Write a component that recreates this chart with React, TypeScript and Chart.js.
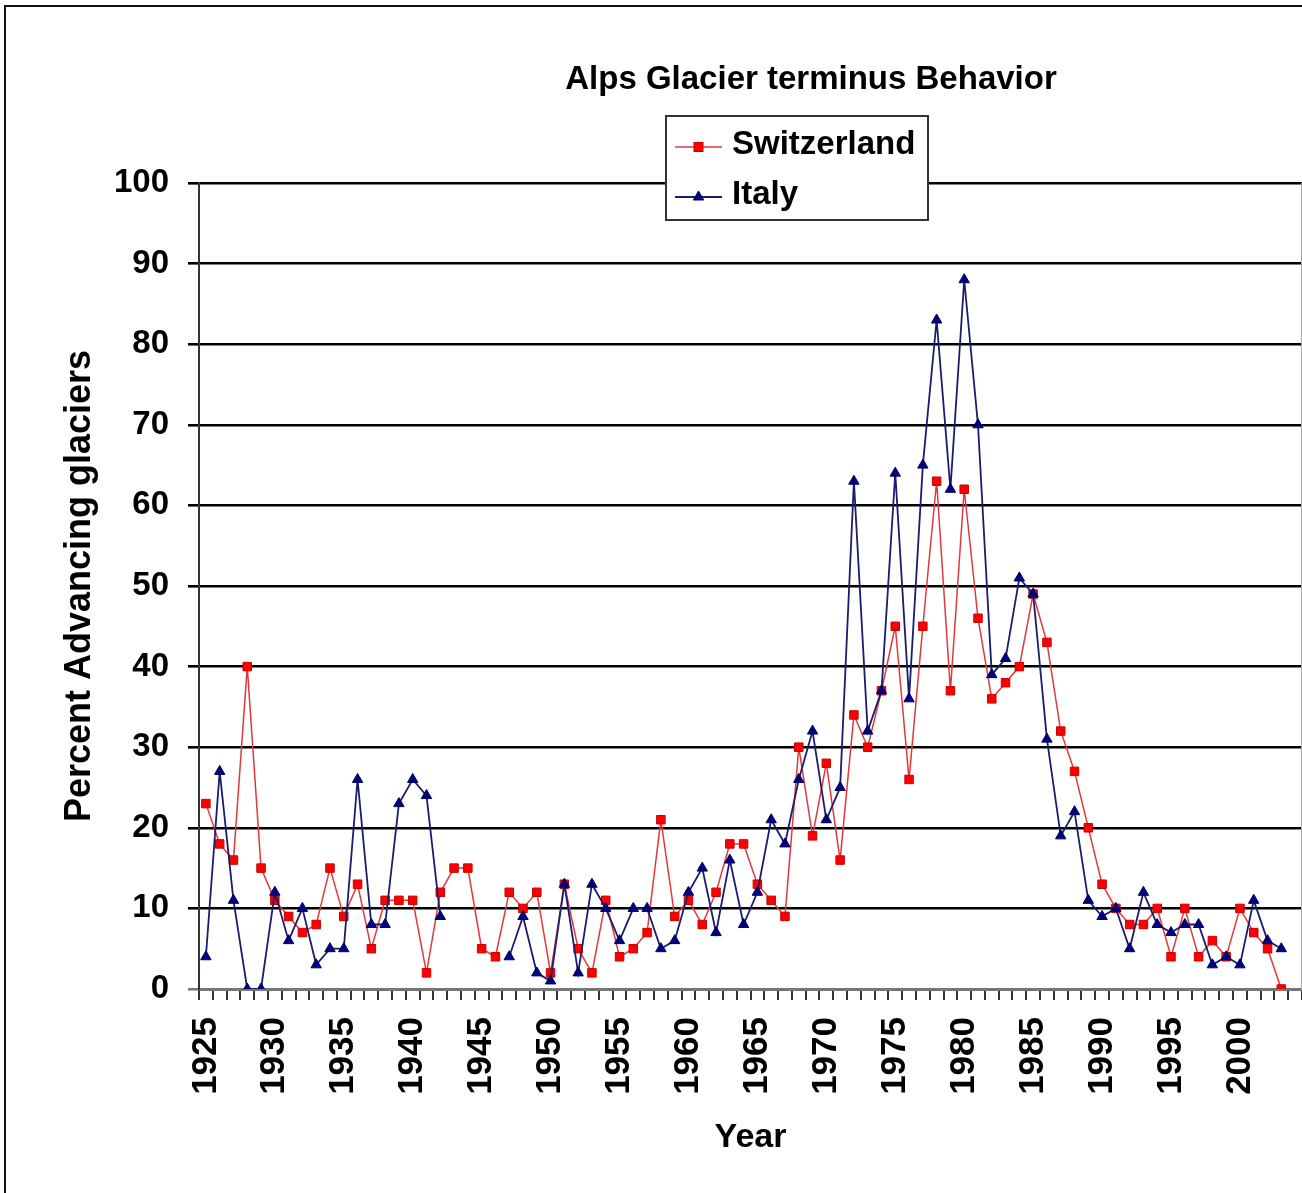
import React, { useEffect, useRef } from 'react';
import { Chart, registerables } from 'chart.js';

Chart.register(...registerables);

const FONT = '"Liberation Sans", Arial, Helvetica, sans-serif';

const TITLE = 'Alps Glacier terminus Behavior';
const X_TITLE = 'Year';
const Y_TITLE = 'Percent Advancing glaciers';
const SERIES_NAMES = ['Switzerland', 'Italy'];

const YEARS = [
  '1925', '1926', '1927', '1928', '1929', '1930', '1931', '1932', '1933', '1934',
  '1935', '1936', '1937', '1938', '1939', '1940', '1941', '1942', '1943', '1944',
  '1945', '1946', '1947', '1948', '1949', '1950', '1951', '1952', '1953', '1954',
  '1955', '1956', '1957', '1958', '1959', '1960', '1961', '1962', '1963', '1964',
  '1965', '1966', '1967', '1968', '1969', '1970', '1971', '1972', '1973', '1974',
  '1975', '1976', '1977', '1978', '1979', '1980', '1981', '1982', '1983', '1984',
  '1985', '1986', '1987', '1988', '1989', '1990', '1991', '1992', '1993', '1994',
  '1995', '1996', '1997', '1998', '1999', '2000', '2001', '2002', '2003', '2004',
];

const LABELLED_YEARS = ['1925', '1930', '1935', '1940', '1945', '1950', '1955', '1960', '1965', '1970', '1975', '1980', '1985', '1990', '1995', '2000'];

const SWITZERLAND = [
  23, 18, 16, 40, 15, 11, 9, 7, 8, 15,
  9, 13, 5, 11, 11, 11, 2, 12, 15, 15,
  5, 4, 12, 10, 12, 2, 13, 5, 2, 11,
  4, 5, 7, 21, 9, 11, 8, 12, 18, 18,
  13, 11, 9, 30, 19, 28, 16, 34, 30, 37,
  45, 26, 45, 63, 37, 62, 46, 36, 38, 40,
  49, 43, 32, 27, 20, 13, 10, 8, 8, 10,
  4, 10, 4, 6, 4, 10, 7, 5, 0, null,
];

const ITALY = [
  4, 27, 11, 0, 0, 12, 6, 10, 3, 5,
  5, 26, 8, 8, 23, 26, 24, 9, null, null,
  null, null, 4, 9, 2, 1, 13, 2, 13, 10,
  6, 10, 10, 5, 6, 12, 15, 7, 16, 8,
  12, 21, 18, 26, 32, 21, 25, 63, 32, 37,
  64, 36, 65, 83, 62, 88, 70, 39, 41, 51,
  49, 31, 19, 22, 11, 9, 10, 5, 12, 8,
  7, 8, 8, 3, 4, 3, 11, 6, 5, null,
];

const SWISS_LINE = '#e2383c';
const SWISS_FILL = '#ff0000';
const SWISS_EDGE = '#c80000';
const ITALY_LINE = '#1c1c6e';
const ITALY_FILL = '#000080';
const ITALY_EDGE = '#00005a';

const overlayPlugin = {
  id: 'overlay',
  afterDraw(chart: any) {
    const ctx = chart.ctx as CanvasRenderingContext2D;
    const area = chart.chartArea;
    ctx.save();
    // thin plot-area right edge
    ctx.strokeStyle = '#aaa';
    ctx.lineWidth = 1;
    ctx.beginPath();
    ctx.moveTo(1301.5, area.top);
    ctx.lineTo(1301.5, area.bottom);
    ctx.stroke();

    // title
    ctx.fillStyle = '#000';
    ctx.font = `bold 33px ${FONT}`;
    ctx.textAlign = 'center';
    ctx.textBaseline = 'middle';
    ctx.fillText(TITLE, 811, 80);

    // legend box
    const bx = 666, by = 116, bw = 262, bh = 104;
    ctx.fillStyle = '#fff';
    ctx.fillRect(bx, by, bw, bh);
    ctx.strokeStyle = '#333';
    ctx.lineWidth = 2;
    ctx.strokeRect(bx, by, bw, bh);

    const rows = [147, 197];
    chart.data.datasets.forEach((ds: any, i: number) => {
      const y = rows[i];
      ctx.strokeStyle = ds.borderColor;
      ctx.lineWidth = ds.borderWidth;
      ctx.beginPath();
      ctx.moveTo(675, y);
      ctx.lineTo(722, y);
      ctx.stroke();
      ctx.fillStyle = ds.pointBackgroundColor;
      ctx.strokeStyle = ds.pointBorderColor;
      ctx.lineWidth = 1;
      if (ds.pointStyle === 'rect') {
        ctx.fillRect(694, y - 4.5, 9, 9);
        ctx.strokeRect(694, y - 4.5, 9, 9);
      } else {
        ctx.beginPath();
        ctx.moveTo(698.5, y - 6);
        ctx.lineTo(703.7, y + 3);
        ctx.lineTo(693.3, y + 3);
        ctx.closePath();
        ctx.fill();
        ctx.stroke();
      }
      ctx.fillStyle = '#000';
      ctx.font = `bold 33px ${FONT}`;
      ctx.textAlign = 'left';
      ctx.textBaseline = 'middle';
      ctx.fillText(ds.label, 732, y - 2);
    });
    ctx.restore();
  },
};

const CANVAS_W = 1309;
const CANVAS_H = 1193;

export default function App() {
  const ref = useRef<HTMLCanvasElement>(null);

  useEffect(() => {
    if (!ref.current) return;
    const chart = new Chart(ref.current, {
      type: 'line',
      data: {
        labels: YEARS,
        datasets: [
          {
            label: SERIES_NAMES[0],
            data: SWITZERLAND,
            borderColor: SWISS_LINE,
            borderWidth: 1.5,
            pointStyle: 'rect',
            pointRadius: 6,
            pointBackgroundColor: SWISS_FILL,
            pointBorderColor: SWISS_EDGE,
            pointBorderWidth: 1,
            tension: 0,
            spanGaps: false,
            order: 2,
          },
          {
            label: SERIES_NAMES[1],
            data: ITALY,
            borderColor: ITALY_LINE,
            borderWidth: 1.8,
            pointStyle: 'triangle',
            pointRadius: 6,
            pointBackgroundColor: ITALY_FILL,
            pointBorderColor: ITALY_EDGE,
            pointBorderWidth: 1,
            tension: 0,
            spanGaps: false,
            order: 1,
          },
        ],
      },
      options: {
        responsive: false,
        devicePixelRatio: 1,
        animation: false,
        layout: { padding: { top: 183, left: 0, right: 0, bottom: 0 } },
        plugins: {
          legend: { display: false },
          title: { display: false },
          tooltip: { enabled: false },
        },
        scales: {
          x: {
            type: 'category',
            offset: true,
            grid: {
              drawOnChartArea: false,
              drawTicks: true,
              tickLength: 11,
              color: '#333',
              lineWidth: 2,
              offset: true,
            },
            border: { display: true, color: '#777', width: 3 },
            ticks: {
              autoSkip: false,
              maxRotation: 90,
              minRotation: 90,
              padding: 17,
              color: '#000',
              font: { family: FONT, size: 35, weight: 'bold' },
              callback: (_v: any, i: number) => (LABELLED_YEARS.includes(YEARS[i]) ? YEARS[i] : ''),
            },
            title: {
              display: true,
              text: X_TITLE,
              color: '#000',
              font: { family: FONT, size: 34, weight: 'bold' },
              padding: { top: 0, bottom: 35 },
            },
            afterFit(scale: any) {
              scale.height = 1193 - 989;
              scale.paddingLeft = 0;
              scale.paddingRight = 0;
            },
          },
          y: {
            min: 0,
            max: 100,
            ticks: {
              stepSize: 10,
              padding: 19,
              color: '#000',
              font: { family: FONT, size: 33, weight: 'bold' },
            },
            grid: {
              color: (c: any) => (c.tick && c.tick.value === 0 ? '#777' : '#000'),
              lineWidth: 2.6,
              tickLength: 11,
              drawTicks: true,
            },
            border: { display: true, color: '#333', width: 2 },
            title: {
              display: true,
              text: Y_TITLE,
              color: '#000',
              font: { family: FONT, size: 36, weight: 'bold' },
              padding: { top: 58, bottom: 0 },
            },
            afterFit(scale: any) {
              scale.width = 199;
            },
          },
        },
      },
      plugins: [overlayPlugin],
    } as any);
    return () => chart.destroy();
  }, []);

  return (
    <div
      style={{
        position: 'fixed',
        left: 0,
        top: 0,
        width: 1302,
        height: 1193,
        overflow: 'hidden',
        background: '#fff',
      }}
    >
      <canvas
        ref={ref}
        width={CANVAS_W}
        height={CANVAS_H}
        style={{ display: 'block', width: CANVAS_W, height: CANVAS_H }}
      />
      <div
        style={{
          position: 'absolute',
          left: 4,
          top: 5,
          width: 1400,
          height: 1400,
          borderLeft: '2px solid #111',
          borderTop: '2px solid #111',
          pointerEvents: 'none',
        }}
      />
    </div>
  );
}
